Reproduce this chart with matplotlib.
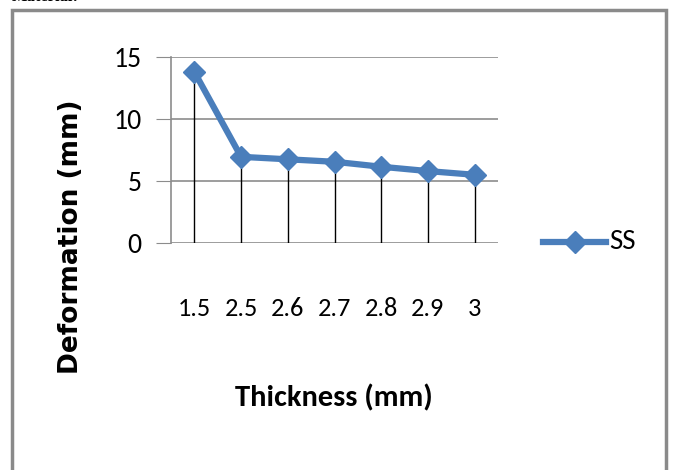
import matplotlib.pyplot as plt
from matplotlib.patches import Rectangle
from matplotlib.lines import Line2D

# data
thickness = ["1.5", "2.5", "2.6", "2.7", "2.8", "2.9", "3"]
deformation = [13.8, 6.95, 6.75, 6.55, 6.15, 5.8, 5.5]

plt.rcParams['font.family'] = ['Carlito', 'Liberation Sans', 'DejaVu Sans']

fig = plt.figure(figsize=(6.73, 4.70), dpi=100)
ax = fig.add_axes([171/673, 1-243/470, 327/673, 186/470])

x = range(len(thickness))
ax.set_xlim(-0.5, len(thickness) - 0.5)
ax.set_ylim(0, 15)

# drop lines
ax.vlines(x, 0, deformation, color='black', lw=1.0, zorder=2)
ax.plot(x, deformation, color='#4A7EBB', lw=4.5, marker='D', markersize=11,
        zorder=3)

ax.set_yticks([0, 5, 10, 15])
ax.yaxis.grid(True, color='#8C8C8C', lw=1.2)
ax.set_axisbelow(True)
ax.tick_params(axis='y', length=11, color='#8C8C8C', labelsize=20, pad=10)
ax.set_xticks(list(x))
ax.set_xticklabels(thickness)
ax.tick_params(axis='x', length=0, labelsize=19, pad=39)

for s in ['top', 'right', 'bottom']:
    ax.spines[s].set_visible(False)
ax.spines['left'].set_color('#8C8C8C')
ax.spines['left'].set_linewidth(1.2)

fig.text(71/673, 1-237/470, "Deformation (mm)", rotation=90, fontsize=19,
         fontweight='bold', family=['DejaVu Sans'], ha='center', va='center')
fig.text(334/673, 1-398/470, "Thickness (mm)", fontsize=22, fontweight='bold',
         ha='center', va='center')

# legend
leg_line = Line2D([543/673, 606/673], [1-242/470, 1-242/470],
                  transform=fig.transFigure, color='#4A7EBB', lw=4.5)
fig.add_artist(leg_line)
leg_mark = Line2D([575/673], [1-242/470], transform=fig.transFigure,
                  color='#4A7EBB', marker='D', markersize=11, lw=0)
fig.add_artist(leg_mark)
fig.text(609/673, 1-242/470, "SS", fontsize=21, ha='left', va='center')

# chart border
fig.add_artist(Rectangle((12/673, -0.05), 654/673, 1.05 - 10/470,
                         transform=fig.transFigure, fill=False,
                         edgecolor='#8A8A8A', lw=2.5))

fig.text(12/673, 1-1/470, "Material:", fontsize=12, fontweight='bold',
         family=['Liberation Serif', 'DejaVu Serif'], ha='left', va='baseline')

fig.savefig("out.png", dpi=100)
